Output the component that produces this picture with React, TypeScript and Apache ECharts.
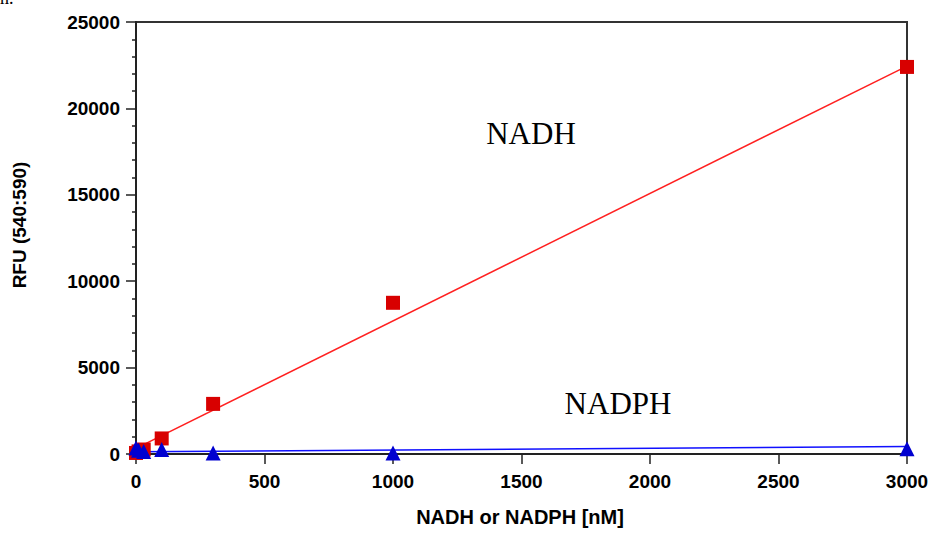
import React, { useEffect, useRef } from "react";
import * as echarts from "echarts";

// NADH standard curve (nM, RFU)
const nadhX = [0, 10, 30, 100, 300, 1000, 3000];
const nadhY = [60, 150, 260, 900, 2900, 8750, 22400];
// NADPH (nM, RFU)
const nadphX = [0, 10, 30, 100, 300, 1000, 3000];
const nadphY = [350, 220, 150, 260, 60, 60, 300];
// linear fits (endpoints)
const fitX = [0, 3000];
const nadhFitY = [330, 22450];
const nadphFitY = [130, 440];

const xTicks = { min: 0, max: 3000, interval: 500 };
const yTicks = { min: 0, max: 25000, interval: 5000 };

const annotations = [
  { text: "NADH", x: 531, y: 133 },
  { text: "NADPH", x: 618, y: 403 },
];

const AXIS_FONT = "'Liberation Sans', Arial, sans-serif";

export default function App() {
  const ref = useRef<HTMLDivElement>(null);
  useEffect(() => {
    if (!ref.current) return;
    const chart = echarts.init(ref.current, null, { renderer: "svg" });
    const zip = (xs: number[], ys: number[]) => xs.map((x, i) => [x, ys[i]]);
    const axisCommon = {
      axisLine: { show: true, onZero: false, lineStyle: { color: "#222", width: 2 } },
      axisTick: { show: true, inside: false, length: 10, lineStyle: { color: "#222", width: 1.5 } },
      splitLine: { show: false },
      axisLabel: {
        color: "#000",
        fontFamily: AXIS_FONT,
        fontWeight: "bold",
        fontSize: 19,
        formatter: (v: number) => String(v),
      },
    };
    chart.setOption({
      animation: false,
      backgroundColor: "#fff",
      grid: {
        left: 136,
        right: 26,
        top: 22,
        bottom: 82,
        show: true,
        borderColor: "#333",
        borderWidth: 2,
      },
      xAxis: {
        type: "value",
        ...xTicks,
        ...axisCommon,
        axisLabel: { ...axisCommon.axisLabel, margin: 18 },
      },
      yAxis: {
        type: "value",
        ...yTicks,
        ...axisCommon,
        minorTick: { show: true, splitNumber: 5, length: 4, lineStyle: { color: "#222", width: 1.5 } },
        minorSplitLine: { show: false },
        axisLabel: { ...axisCommon.axisLabel, margin: 16 },
      },
      series: [
        {
          type: "line",
          data: zip(fitX, nadhFitY),
          showSymbol: false,
          lineStyle: { color: "#ff2020", width: 1.5 },
          z: 1,
        },
        {
          type: "line",
          data: zip(fitX, nadphFitY),
          showSymbol: false,
          lineStyle: { color: "#1010ff", width: 1.5 },
          z: 1,
        },
        {
          type: "scatter",
          data: zip(nadhX, nadhY),
          symbol: "rect",
          symbolSize: 14,
          itemStyle: { color: "#d80000", opacity: 1 },
          z: 2,
        },
        {
          type: "scatter",
          data: zip(nadphX, nadphY),
          symbol: "triangle",
          symbolSize: 15,
          itemStyle: { color: "#0000d0", opacity: 1 },
          z: 3,
        },
      ],
      graphic: [
        ...annotations.map((a) => ({
          type: "text",
          x: a.x,
          y: a.y,
          style: {
            text: a.text,
            fontFamily: "'Liberation Serif', 'Times New Roman', serif",
            fontSize: 31,
            fill: "#000",
            textAlign: "center",
            textVerticalAlign: "middle",
          },
        })),
        {
          type: "text",
          x: 520,
          y: 517,
          style: {
            text: "NADH or NADPH [nM]",
            fontFamily: AXIS_FONT,
            fontWeight: "bold",
            fontSize: 20,
            fill: "#000",
            textAlign: "center",
            textVerticalAlign: "middle",
          },
        },
        {
          type: "text",
          x: 19,
          y: 225,
          rotation: Math.PI / 2,
          style: {
            text: "RFU (540:590)",
            fontFamily: AXIS_FONT,
            fontWeight: "bold",
            fontSize: 19,
            fill: "#000",
            textAlign: "center",
            textVerticalAlign: "middle",
          },
        },
        {
          type: "text",
          x: 0,
          y: 7,
          style: {
            text: "n.",
            fontFamily: "'Liberation Serif', serif",
            fontSize: 18,
            fill: "#000",
            textAlign: "left",
            textVerticalAlign: "bottom",
          },
        },
      ],
    });
    return () => chart.dispose();
  }, []);
  return (
    <div
      ref={ref}
      style={{ position: "fixed", left: 0, top: 0, width: 933, height: 536 }}
    />
  );
}
